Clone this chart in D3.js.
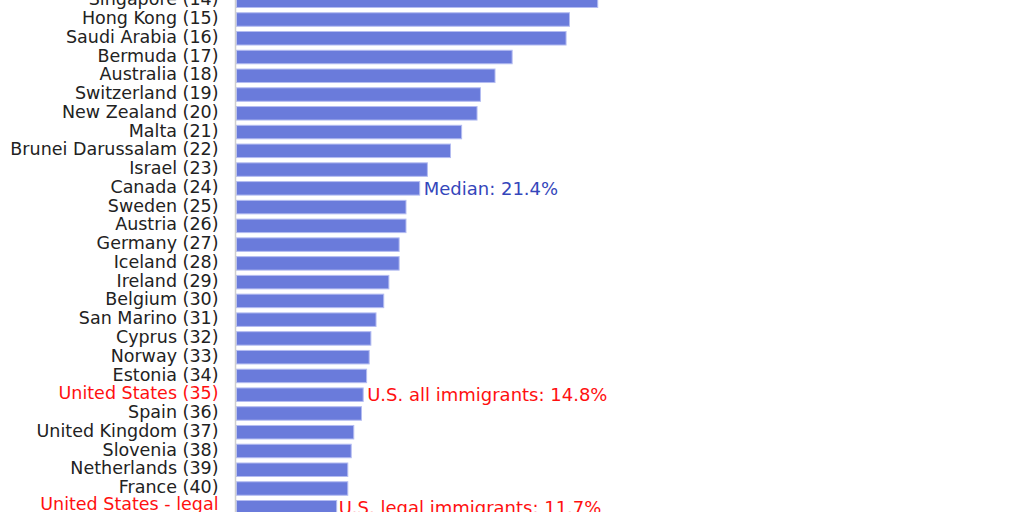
<!DOCTYPE html>
<html>
<head>
<meta charset="utf-8">
<script src="https://cdn.jsdelivr.net/npm/d3@7"></script>
<style>
  html, body { margin: 0; padding: 0; background: #fff; overflow: hidden; }
  svg { display: block; font-family: "DejaVu Sans", sans-serif; }
</style>
</head>
<body>
<div id="chart"></div>
<script>
// visible part of the ranking: share of immigrants in population (%)
const countries = [
  "Singapore (14)", "Hong Kong (15)", "Saudi Arabia (16)", "Bermuda (17)",
  "Australia (18)", "Switzerland (19)", "New Zealand (20)", "Malta (21)",
  "Brunei Darussalam (22)", "Israel (23)", "Canada (24)", "Sweden (25)",
  "Austria (26)", "Germany (27)", "Iceland (28)", "Ireland (29)",
  "Belgium (30)", "San Marino (31)", "Cyprus (32)", "Norway (33)",
  "Estonia (34)", "United States (35)", "Spain (36)", "United Kingdom (37)",
  "Slovenia (38)", "Netherlands (39)", "France (40)",
  "United States - legal|immigrants (41)"
];
const shares = [
  42.2, 38.9, 38.5, 32.2, 30.2, 28.5, 28.1, 26.3, 25.0, 22.3, 21.4, 19.8,
  19.8, 19.0, 19.0, 17.8, 17.2, 16.3, 15.7, 15.5, 15.2, 14.8, 14.6, 13.7,
  13.4, 13.0, 13.0, 11.7
];
const highlighted = ["United States (35)", "United States - legal|immigrants (41)"];

// notes written next to some bars
const noteRows  = ["Canada (24)", "United States (35)", "United States - legal|immigrants (41)"];
const noteTexts = ["Median: 21.4%", "U.S. all immigrants: 14.8%", "U.S. legal immigrants: 11.7%"];
const noteKinds = ["median", "us", "us"];

const width = 1024, height = 512;
const axisX = 235.5;
const fontSize = 17.5;

const svg = d3.select('#chart').append('svg')
    .attr('width', width)
    .attr('height', height);

const x = d3.scaleLinear()
    .domain([0, 50])
    .range([236.5, 236.5 + 50 * 8.56]);

const step = 18.76;
const top0 = 0.74 - step / 2;
const y = d3.scaleBand()
    .domain(countries)
    .range([top0, top0 + step * countries.length])
    .paddingInner(0.28)
    .paddingOuter(0.14);

// bars
svg.append('g')
    .selectAll('rect')
    .data(countries)
    .join('rect')
    .attr('x', x(0))
    .attr('y', d => y(d))
    .attr('width', (d, i) => x(shares[i]) - x(0))
    .attr('height', y.bandwidth())
    .attr('fill', '#6a7bdb')
    .attr('stroke', '#b4bcf1')
    .attr('stroke-width', 1);

// left axis with country labels
const axis = svg.append('g')
    .attr('transform', 'translate(' + axisX + ',0)')
    .call(d3.axisLeft(y).tickSize(0).tickPadding(17).tickFormat(d => ''));

axis.select('.domain')
    .attr('d', 'M0,' + (top0 - 20) + 'V' + (height + 20))
    .attr('stroke', '#cfcfcf')
    .attr('stroke-width', 1.5);

axis.selectAll('.tick text')
    .attr('font-family', '"DejaVu Sans", sans-serif')
    .attr('font-size', fontSize)
    .attr('fill', d => highlighted.includes(d) ? '#ff1010' : '#222')
    .attr('dy', null)
    .each(function(d) {
        const lines = d.split('|');
        const t = d3.select(this);
        lines.forEach((line, k) => {
            t.append('tspan')
                .attr('x', -17)
                .attr('dy', k === 0 ? (lines.length > 1 ? '0.14em' : '0.26em') : '1.1em')
                .text(line);
        });
    });

// notes
svg.append('g')
    .selectAll('text')
    .data(noteRows)
    .join('text')
    .attr('x', (d, i) => x(shares[countries.indexOf(d)]) + (i === 2 ? 2 : 4))
    .attr('y', d => y(d) + y.bandwidth() / 2)
    .attr('dy', '0.36em')
    .attr('font-size', 18)
    .attr('fill', (d, i) => noteKinds[i] === 'median' ? '#3446bb' : '#ff1010')
    .text((d, i) => noteTexts[i]);
</script>
</body>
</html>
